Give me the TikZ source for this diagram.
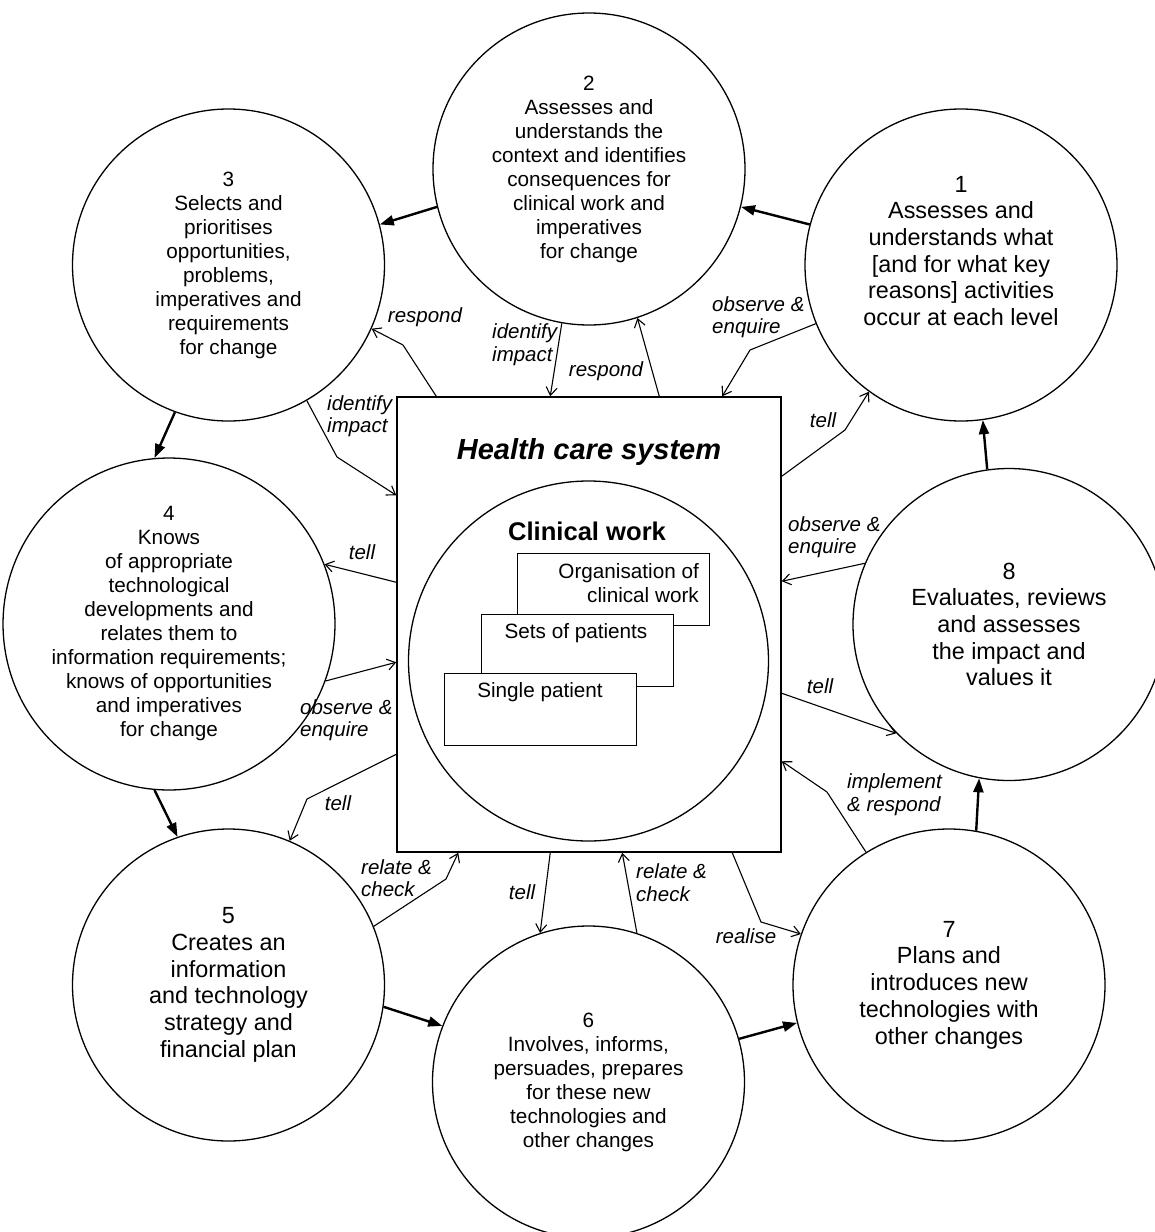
\documentclass[tikz,border=0pt]{standalone}
\usepackage{fontspec}
\setmainfont{Liberation Sans}
\usetikzlibrary{arrows.meta,calc}
\begin{document}
\begin{tikzpicture}[x=1pt,y=-1pt,
  bub/.style={draw, circle, line width=1.3pt, minimum size=312pt, inner sep=0pt, align=center},
  small/.style={font=\fontsize{20.7}{24}\selectfont},
  big/.style={font=\fontsize{23.4}{26.7}\selectfont},
  lab/.style={font=\fontsize{20.5}{22.5}\selectfont\itshape, inner sep=0pt, align=left},
  thickarrow/.style={line width=2.4pt, -{Triangle[length=14pt,width=10pt]}},
  thinarrow/.style={line width=1.1pt, -{Straight Barb[length=8pt,width=11pt]}},
  wbox/.style={draw, fill=white, line width=1.3pt, minimum width=192pt, minimum height=72pt, inner sep=0pt, anchor=north west}
]
\path[fill=white, use as bounding box] (0,0) rectangle (1155,1232);

% outer circles
\node[bub, small] (c2) at (589,169) {2\\Assesses and\\understands the\\context and identifies\\consequences for\\clinical work and\\imperatives\\for change};
\node[bub] (c1) at (961,265) {};
\node[big, align=center, inner sep=0pt] (t1) at (961,251) {1\\Assesses and\\understands what\\{[and for what key}\\reasons{]} activities\\occur at each level};
\node[bub, small] (c3) at (228.5,265) {3\\Selects and\\prioritises\\opportunities,\\problems,\\imperatives and\\requirements\\for change};
\node[bub, small] (c4) at (169,624) {4\\Knows\\of appropriate\\technological\\developments and\\relates them to\\information requirements;\\knows of opportunities\\and imperatives\\for change};
\node[bub, big] (c5) at (228.5,985) {5\\Creates an\\information\\and technology\\strategy and\\financial plan};
\node[bub, small] (c6) at (588.5,1082) {6\\Involves, informs,\\persuades, prepares\\for these new\\technologies and\\other changes};
\node[bub, big] (c7) at (949,985) {7\\Plans and\\introduces new\\technologies with\\other changes};
\node[bub, big] (c8) at (1009,624.5) {8\\Evaluates, reviews\\and assesses\\the impact and\\values it};

% central system
\node[draw, line width=1.5pt, minimum width=384pt, minimum height=455pt, inner sep=0pt] (hcs) at (589,624.5) {};
\node[draw, circle, line width=1.3pt, minimum size=360pt, inner sep=0pt] (cw) at (588.5,661) {};
\node[font=\fontsize{29}{34}\selectfont\bfseries\itshape, inner sep=0pt] (hcst) at (589,452) {Health care system};
\node[font=\fontsize{25.6}{30}\selectfont\bfseries, inner sep=0pt] (cwt) at (587,531) {Clinical work};

\node[wbox] (bo) at (517,553) {};
\node[small, align=right, anchor=east, inner sep=0pt] (bot) at (699,583) {Organisation of\\clinical work};
\node[wbox] (bs) at (481,614) {};
\node[small, inner sep=0pt] (bst) at (576,633) {Sets of patients};
\node[wbox] (bp) at (444,673) {};
\node[small, inner sep=0pt] (bpt) at (540,692) {Single patient};

% thick cycle arrows
\draw[thickarrow] (c1.165) -- (c2.-14);
\draw[thickarrow] (c2.194.8) -- (c3.15.7);
\draw[thickarrow] (c3.250.7) -- (c4.95.2);
\draw[thickarrow] (c4.265) -- (c5.109.6);
\draw[thickarrow] (c5.-8.4) -- (c6.159.9);
\draw[thickarrow] (c6.16) -- (c7.194.4);
\draw[thickarrow] (c7.80.5) -- (c8.259.8);
\draw[thickarrow] (c8.98.1) -- (c1.278.1);

% thin connectors
\draw[thinarrow] ([xshift=40pt]hcs.north west) -- (403,345) -- (c3.-24.5);
\draw[thinarrow] (c2.260.3) -- ([xshift=154pt]hcs.north west);
\draw[thinarrow] ([xshift=263pt]hcs.north west) -- (c2.-72.7);
\draw[thinarrow] (c1.202.9) -- (750,350) -- ([xshift=326pt]hcs.north west);
\draw[thinarrow] ([yshift=-80pt]hcs.north east) -- (845,430) -- (c1.234.4);
\draw[thinarrow] (c8.157.5) -- ([yshift=-185pt]hcs.north east);
\draw[thinarrow] ([yshift=-297pt]hcs.north east) -- (c8.224.9);
\draw[thinarrow] (c7.122.5) -- (827,792) -- ([yshift=-365pt]hcs.north east);
\draw[thinarrow] ([xshift=336pt]hcs.south west) -- (761,922) -- (c7.161.5);
\draw[thinarrow] (c6.72.5) -- ([xshift=226pt]hcs.south west);
\draw[thinarrow] ([xshift=154pt]hcs.south west) -- (c6.108.6);
\draw[thinarrow] (c5.22.1) -- (446,879) -- ([xshift=62pt]hcs.south west);
\draw[thinarrow] ([yshift=-358pt]hcs.north west) -- (307,799) -- (c5.67);
\draw[thinarrow] (c4.-20.2) -- ([yshift=-266pt]hcs.north west);
\draw[thinarrow] ([yshift=-186pt]hcs.north west) -- (c4.21.6);
\draw[thinarrow] (c3.-60.8) -- (337,457) -- ([yshift=-99pt]hcs.north west);

% labels
\node[lab] (la) at (425,317) {respond};
\node[lab, anchor=west] (lb) at (492,344.5) {identify\\impact};
\node[lab] (lc) at (606,371) {respond};
\node[lab, anchor=west] (ld) at (712,317) {observe \&\\enquire};
\node[lab] (le) at (823,420) {tell};
\node[lab, anchor=west] (lf) at (788,537) {observe \&\\enquire};
\node[lab] (lg) at (820,686) {tell};
\node[lab, anchor=west] (lh) at (847,794.5) {implement\\\& respond};
\node[lab] (li) at (746,936) {realise};
\node[lab, anchor=west] (lj) at (636,882.5) {relate \&\\check};
\node[lab] (lk) at (522,892) {tell};
\node[lab, anchor=west] (ll) at (361,878) {relate \&\\check};
\node[lab] (lm) at (338,803) {tell};
\node[lab, anchor=west] (ln) at (300,720) {observe \&\\enquire};
\node[lab] (lo) at (362,552) {tell};
\node[lab, anchor=west] (lp) at (327,416) {identify\\impact};
\end{tikzpicture}
\end{document}
